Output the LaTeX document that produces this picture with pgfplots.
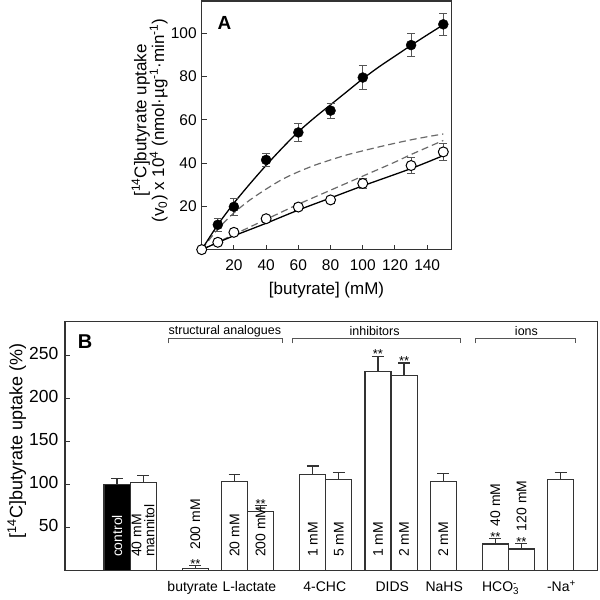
\documentclass[border=0pt]{standalone}
\usepackage{pgfplots}
\pgfplotsset{compat=1.18}
\usepackage{fontspec}
\setmainfont{Liberation Sans}
\definecolor{axgray}{HTML}{333333}
\definecolor{errgray}{HTML}{555555}
\definecolor{dashgray}{HTML}{6A6A6A}
\definecolor{brgray}{HTML}{555555}

\pgfplotstableread{
x y e
10 11.5 3
20 19.8 4
40 41.5 3
60 54.2 4
80 64.3 3.5
100 79.6 5.5
130 94.6 5.5
150 104.2 5
}\filled
\pgfplotstableread{
x y e
0 0 0
10 3.4 1
20 8.0 1
40 14.3 1
60 19.7 1.5
80 23.0 1.5
100 30.6 2.5
130 38.9 3.5
150 45.2 4
}\opened

\begin{document}
\begin{tikzpicture}
\path (0pt,0pt) rectangle (600pt,591pt);
% ---------------- Panel A ----------------
\begin{axis}[
  at={(202pt,341pt)}, anchor=south west,
  width=250pt, height=249pt, scale only axis,
  xmin=0, xmax=155, ymin=0, ymax=115,
  xtick={20,40,...,140}, ytick={20,40,...,100},
  tick align=inside, tick pos=left,
  major tick length=5pt,
  axis line style={axgray, line width=1.2pt},
  tick style={axgray, line width=1pt},
  /pgf/number format/assume math mode=true,
  ticklabel style={font=\fontsize{15.5}{18}\selectfont},
  xticklabel style={yshift=-6.5pt},
  yticklabel style={xshift=-1.5pt},
  xlabel={[butyrate] (mM)},
  ylabel={[\textsuperscript{14}C]butyrate uptake\\(v\textsubscript{0}) x 10\textsuperscript{4} (nmol·µg\textsuperscript{-1}·min\textsuperscript{-1})},
  label style={font=\fontsize{17}{18}\selectfont},
  ylabel style={at={(axis description cs:-0.208,0.52)}, anchor=center, align=center},
  xlabel style={at={(axis description cs:0.5,-0.161)}, anchor=center},
  clip=false,
]
\addplot[dashgray, line width=1.2pt, dash pattern=on 7pt off 4pt, smooth] coordinates {
(0,0)(10,9.5)(20,17)(30,23)(40,28)(50,32.5)(60,36)(70,39)(80,41.5)(90,43.8)(100,45.7)(110,47.5)(120,49.2)(130,50.8)(140,52.2)(150,53.5)};
\addplot[dashgray, line width=1.2pt, dash pattern=on 7pt off 4pt, smooth] coordinates {
(0,0)(20,7)(40,14)(60,21)(80,27.5)(100,34)(120,40.5)(130,44)(150,50.5)};
\addplot[black, line width=1.3pt, smooth] coordinates {
(0,0)(10,11.5)(20,21.5)(30,30.5)(40,39)(50,47)(60,54.5)(70,61)(80,67)(90,73)(100,79)(110,84.5)(120,89.5)(130,94.5)(140,99.3)(150,104)};
\addplot[black, line width=1.3pt, smooth] coordinates {
(0,0)(10,3.3)(20,6.4)(40,12.2)(60,18.3)(80,23.9)(100,29.5)(130,37.5)(150,43.5)};
% error bars
\addplot[draw=none, mark=none, forget plot,
  error bars/.cd, y dir=both, y explicit,
  error bar style={draw=errgray, line width=1pt},
  error mark options={rotate=90, draw=errgray, mark size=4pt, line width=1pt}]
  table[x=x, y=y, y error=e] {\filled};
\addplot[draw=none, mark=none, forget plot,
  error bars/.cd, y dir=both, y explicit,
  error bar style={draw=errgray, line width=1pt},
  error mark options={rotate=90, draw=errgray, mark size=4pt, line width=1pt}]
  table[x=x, y=y, y error=e] {\opened};
\addplot[only marks, mark=*, mark size=5pt, mark options={fill=black, draw=black}] table[x=x,y=y] {\filled};
\addplot[only marks, mark=*, mark size=5pt, mark options={fill=white, draw=black, line width=1pt}] table[x=x,y=y] {\opened};
\node[font=\fontsize{19}{20}\selectfont\bfseries] at (axis cs:14.1,104.8) {A};
\end{axis}

% ---------------- Panel B ----------------
\begin{axis}[
  at={(65pt,20pt)}, anchor=south west,
  width=533pt, height=249pt, scale only axis,
  xmin=-2, xmax=18.4, ymin=0, ymax=290,
  ytick={50,100,...,250},
  xtick={2.9,5.07,7.96,10.55,12.54,14.7,17.03},
  xticklabels={butyrate, L-lactate, 4-CHC, DIDS, NaHS, HCO\rlap{\textsuperscript{-}}\textsubscript{3}, -Na\textsuperscript{+}},
  xtick style={draw=none},
  tick align=inside, tick pos=left,
  major tick length=5pt,
  axis line style={axgray, line width=1.2pt},
  ytick style={axgray, line width=1pt},
  /pgf/number format/assume math mode=true,
  yticklabel style={font=\fontsize{17.5}{20}\selectfont, xshift=-3pt},
  xticklabel style={font=\fontsize{14}{16}\selectfont, yshift=-2pt},
  typeset ticklabels with strut,
  ylabel={[\textsuperscript{14}C]butyrate uptake (\%)},
  ylabel style={font=\fontsize{18}{20}\selectfont, at={(axis description cs:-0.0906,0.519)}, anchor=center},
  ybar, bar width=1, bar shift=0pt,
  clip=false,
]
\addplot[fill=black, draw=axgray, line width=1.2pt,
  error bars/.cd, y dir=plus, y explicit,
  error bar style={draw=axgray, line width=1.2pt},
  error mark options={rotate=90, draw=axgray, mark size=6pt, line width=1.2pt}]
  coordinates {(0,100) +- (0,7)};
\addplot[fill=white, draw=axgray, line width=1.2pt,
  error bars/.cd, y dir=plus, y explicit,
  error bar style={draw=axgray, line width=1.2pt},
  error mark options={rotate=90, draw=axgray, mark size=6pt, line width=1.2pt}]
  coordinates {
  (1,102) +- (0,8)
  (3,2) +- (0,3)
  (4.5,103) +- (0,9)
  (5.5,68.6) +- (0,6.5)
  (7.5,111.4) +- (0,10)
  (8.5,105.6) +- (0,8)
  (10,231.8) +- (0,17.5)
  (11,227.2) +- (0,14.5)
  (12.5,103.6) +- (0,9)
  (14.5,30.6) +- (0,6)
  (15.5,24.8) +- (0,6)
  (17,105.6) +- (0,8.5)
  };
% labels inside bars (rotated frame: xshift moves upward)
\begin{scope}[every node/.style={rotate=90, anchor=west, inner sep=0pt, font=\fontsize{14}{13}\selectfont}]
\node[text=white, xshift=13pt] at (axis cs:0,0) {control};
\node[align=left, xshift=13pt] at (axis cs:1,0) {40 mM\\mannitol};
\node[xshift=13pt] at (axis cs:4.5,0) {20 mM};
\node[xshift=13pt] at (axis cs:5.5,0) {200 mM};
\node[xshift=13pt] at (axis cs:7.5,0) {1 mM};
\node[xshift=13pt] at (axis cs:8.5,0) {5 mM};
\node[xshift=13pt] at (axis cs:10,0) {1 mM};
\node[xshift=13pt] at (axis cs:11,0) {2 mM};
\node[xshift=13pt] at (axis cs:12.5,0) {2 mM};
\node[xshift=16pt] at (axis cs:3,5) {200 mM};
\node[xshift=12.5pt] at (axis cs:14.5,36.6) {40 mM};
\node[xshift=12.5pt] at (axis cs:15.5,30.8) {120 mM};
\end{scope}
% significance stars
\begin{scope}[every node/.style={anchor=south, inner sep=0pt, font=\fontsize{13}{13}\selectfont, yshift=-2.5pt}]
\node at (axis cs:3,5) {**};
\node at (axis cs:5.5,75.1) {**};
\node at (axis cs:10,249.3) {**};
\node at (axis cs:11,241.7) {**};
\node at (axis cs:14.5,36.6) {**};
\node at (axis cs:15.5,30.8) {**};
\end{scope}
% group brackets
\draw[brgray, line width=0.9pt] (axis cs:1.95,264.5) -- (axis cs:1.95,270) -- (axis cs:6.35,270) -- (axis cs:6.35,264.5);
\draw[brgray, line width=0.9pt] (axis cs:6.74,264.5) -- (axis cs:6.74,270) -- (axis cs:13.17,270) -- (axis cs:13.17,264.5);
\draw[brgray, line width=0.9pt] (axis cs:13.75,264.5) -- (axis cs:13.75,270) -- (axis cs:17.58,270) -- (axis cs:17.58,264.5);
\node[font=\fontsize{12.5}{14}\selectfont] at (axis cs:4.13,278.4) {structural analogues};
\node[font=\fontsize{12.5}{14}\selectfont] at (axis cs:9.87,278.4) {inhibitors};
\node[font=\fontsize{12.5}{14}\selectfont] at (axis cs:15.69,278.4) {ions};
\node[font=\fontsize{20}{20}\selectfont\bfseries] at (axis cs:-1.23,266.8) {B};
\end{axis}
\end{tikzpicture}
\end{document}
